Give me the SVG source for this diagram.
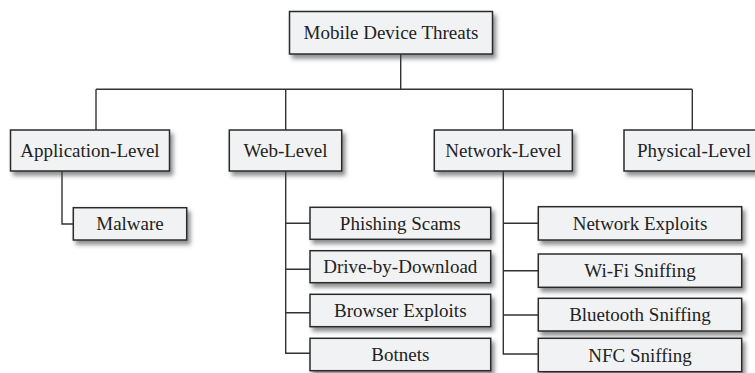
<svg xmlns="http://www.w3.org/2000/svg" width="755" height="373" viewBox="0 0 755 373">
<defs>
<filter id="sh" x="-10%" y="-20%" width="130%" height="160%">
<feDropShadow dx="3" dy="4" stdDeviation="2" flood-color="#444" flood-opacity="0.6"/>
</filter>
</defs>
<style>
.box{fill:#f1f2f4;stroke:#2b2b2b;stroke-width:1.5;filter:url(#sh)}
.t{font-family:"Liberation Serif","Times New Roman",serif;font-size:19px;fill:#222;text-anchor:middle}
.c{fill:none;stroke:#333;stroke-width:1.4}
</style>
<rect width="755" height="373" fill="#fff"/>
<g id="connectors">
<path class="c" d="M400.7,54 V89.3 M96,89.3 H692.3 M96,89.3 V130 M285.7,89.3 V130 M503.3,89.3 V130 M692.3,89.3 V130"/>
<path class="c" d="M62,171 V224 H73.3"/>
<path class="c" d="M285.7,171 V353.3 H310 M285.7,223.3 H310 M285.7,269.3 H310 M285.7,312.7 H310"/>
<path class="c" d="M503.3,171 V354 H538.3 M503.3,223.3 H538.3 M503.3,270.7 H538.3 M503.3,315 H538.3"/>
</g>
<g id="root"><rect class="box" x="289.5" y="11.5" width="203" height="42.5"/><text class="t" x="391" y="39">Mobile Device Threats</text></g>
<g id="app"><rect class="box" x="10.5" y="130" width="159" height="41"/><text class="t" x="90" y="157">Application-Level</text></g>
<g id="web"><rect class="box" x="229.3" y="130" width="112.4" height="41"/><text class="t" x="285.5" y="157">Web-Level</text></g>
<g id="net"><rect class="box" x="434.3" y="130" width="138" height="41"/><text class="t" x="503.3" y="157">Network-Level</text></g>
<g id="phys"><rect class="box" x="624" y="130" width="140" height="41"/><text class="t" x="694" y="157">Physical-Level</text></g>
<g id="malware"><rect class="box" x="73.3" y="207.7" width="113.4" height="32.3"/><text class="t" x="130" y="230.3">Malware</text></g>
<g id="phishing"><rect class="box" x="310" y="207.3" width="180.7" height="32"/><text class="t" x="400.3" y="229.8">Phishing Scams</text></g>
<g id="drive"><rect class="box" x="310" y="250.7" width="180.7" height="32"/><text class="t" x="400.3" y="273.2">Drive-by-Download</text></g>
<g id="browser"><rect class="box" x="310" y="294.3" width="180.7" height="32.4"/><text class="t" x="400.3" y="317">Browser Exploits</text></g>
<g id="botnets"><rect class="box" x="310" y="338.3" width="180.7" height="32.4"/><text class="t" x="400.3" y="361">Botnets</text></g>
<g id="netexp"><rect class="box" x="538.3" y="206.7" width="203.4" height="33.3"/><text class="t" x="640" y="229.8">Network Exploits</text></g>
<g id="wifi"><rect class="box" x="538.3" y="254" width="203.4" height="33.3"/><text class="t" x="640" y="277.2">Wi-Fi Sniffing</text></g>
<g id="bt"><rect class="box" x="538.3" y="298.3" width="203.4" height="32.7"/><text class="t" x="640" y="321.2">Bluetooth Sniffing</text></g>
<g id="nfc"><rect class="box" x="538.3" y="338.3" width="203.4" height="33.4"/><text class="t" x="640" y="361.5">NFC Sniffing</text></g>
</svg>
